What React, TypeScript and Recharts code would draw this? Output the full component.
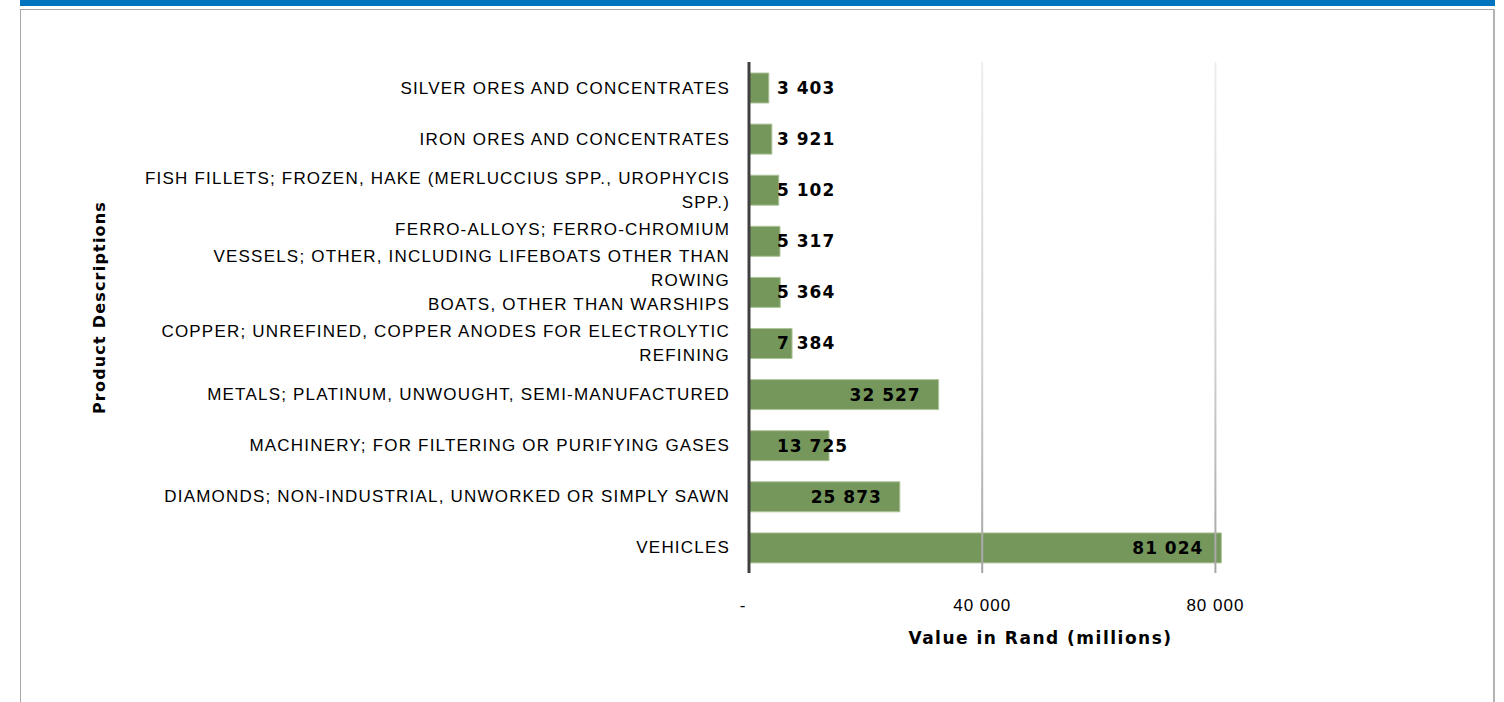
import React from 'react';
import { BarChart, Bar, XAxis, YAxis, ReferenceLine, LabelList, Label } from 'recharts';

// Top 10 products, in the order they appear (top to bottom)
const categories = [
  'SILVER ORES AND CONCENTRATES',
  'IRON ORES AND CONCENTRATES',
  'FISH FILLETS; FROZEN, HAKE (MERLUCCIUS SPP., UROPHYCIS SPP.)',
  'FERRO-ALLOYS; FERRO-CHROMIUM',
  'VESSELS; OTHER, INCLUDING LIFEBOATS OTHER THAN ROWING BOATS, OTHER THAN WARSHIPS',
  'COPPER; UNREFINED, COPPER ANODES FOR ELECTROLYTIC REFINING',
  'METALS; PLATINUM, UNWOUGHT, SEMI-MANUFACTURED',
  'MACHINERY; FOR FILTERING OR PURIFYING GASES',
  'DIAMONDS; NON-INDUSTRIAL, UNWORKED OR SIMPLY SAWN',
  'VEHICLES',
];

// value in Rand (millions)
const values = [3403, 3921, 5102, 5317, 5364, 7384, 32527, 13725, 25873, 81024];

// wrapped tick text, as shown on the axis
const categoryLines: string[][] = [
  ['SILVER ORES AND CONCENTRATES'],
  ['IRON ORES AND CONCENTRATES'],
  ['FISH FILLETS; FROZEN, HAKE (MERLUCCIUS SPP., UROPHYCIS', 'SPP.)'],
  ['FERRO-ALLOYS; FERRO-CHROMIUM', ''],
  ['VESSELS; OTHER, INCLUDING LIFEBOATS OTHER THAN', 'ROWING', 'BOATS, OTHER THAN WARSHIPS', ''],
  ['COPPER; UNREFINED, COPPER ANODES FOR ELECTROLYTIC', 'REFINING'],
  ['METALS; PLATINUM, UNWOUGHT, SEMI-MANUFACTURED'],
  ['MACHINERY; FOR FILTERING OR PURIFYING GASES'],
  ['DIAMONDS; NON-INDUSTRIAL, UNWORKED OR SIMPLY SAWN'],
  ['VEHICLES'],
];

const xTicks = [0, 40000, 80000];
const xDomain = [0, 100000];

const data = categories.map((name, i) => ({ name, value: values[i] }));

const LABEL_FONT = '"Liberation Sans", Arial, sans-serif';
const BOLD_FONT = '"DejaVu Sans", Verdana, sans-serif';
const LINE_H = 24;

function fmt(v: number): string {
  if (v === 0) return '-';
  return String(Math.round(v)).replace(/\B(?=(\d{3})+(?!\d))/g, ' ');
}

let measureCtx: CanvasRenderingContext2D | null = null;
function textWidth(s: string, font: string, spacing: number): number {
  if (!measureCtx) measureCtx = document.createElement('canvas').getContext('2d');
  if (!measureCtx) return s.length * 11;
  measureCtx.font = font;
  return measureCtx.measureText(s).width + s.length * spacing;
}

const CategoryTick = (props: any) => {
  const { x, y, payload } = props;
  const idx = categories.indexOf(payload.value);
  const lines = categoryLines[idx] ?? [String(payload.value)];
  const startY = y - ((lines.length - 1) * LINE_H) / 2;
  return (
    <g>
      {lines.map((l, i) => (
        <text
          key={i}
          x={x}
          y={startY + i * LINE_H}
          dy="0.35em"
          textAnchor="end"
          fill="#000"
          style={{ fontFamily: LABEL_FONT, fontSize: 17, letterSpacing: 1.2 }}
        >
          {l}
        </text>
      ))}
    </g>
  );
};

const ValueTick = (props: any) => {
  const { x, y, payload } = props;
  return (
    <text
      x={payload.value === 0 ? x - 6 : x}
      y={y + 32}
      dy="0.35em"
      textAnchor="middle"
      fill="#000"
      style={{ fontFamily: LABEL_FONT, fontSize: 17, letterSpacing: 1 }}
    >
      {fmt(payload.value)}
    </text>
  );
};

// Excel-like "inside end": pushed out to the base when the bar is too short
const ValueLabel = (props: any) => {
  const { x, y, width, height, value } = props;
  const s = fmt(Number(value));
  const w = textWidth(s, `bold 17px ${BOLD_FONT}`, 1);
  const fits = width - 18 - w >= 28;
  return (
    <text
      x={fits ? x + width - 18 : x + 28}
      y={y + height / 2}
      dy="0.35em"
      textAnchor={fits ? 'end' : 'start'}
      fill="#000"
      style={{ fontFamily: BOLD_FONT, fontSize: 17, fontWeight: 'bold', letterSpacing: 1 }}
    >
      {s}
    </text>
  );
};

export default function App() {
  return (
    <div
      style={{
        position: 'absolute',
        left: 0,
        top: 0,
        width: 1504,
        height: 702,
        overflow: 'hidden',
        background: '#fff',
      }}
    >
      <div style={{ position: 'absolute', left: 20, top: 0, width: 1475, height: 6, background: '#0073BE' }} />
      <div
        style={{
          position: 'absolute',
          left: 20,
          top: 9,
          width: 1472,
          height: 720,
          borderTop: '1px solid #a6a6a6',
          borderLeft: '1px solid #a6a6a6',
          borderRight: '2px solid #b4b4b4',
        }}
      />
      <div style={{ position: 'absolute', left: 0, top: 0 }}>
        <BarChart
          width={1504}
          height={702}
          data={data}
          layout="vertical"
          margin={{ top: 62, right: 172, bottom: 59, left: 0 }}
          barSize={30}
        >
          <defs>
            <linearGradient id="gridGrad" x1="0" y1="62" x2="0" y2="573" gradientUnits="userSpaceOnUse">
              <stop offset="0%" stopColor="#eeeeee" />
              <stop offset="60%" stopColor="#cfcfcf" />
              <stop offset="100%" stopColor="#a4a4a4" />
            </linearGradient>
          </defs>
          {xTicks.slice(1).map((t) => (
            <ReferenceLine key={t} x={t} stroke="url(#gridGrad)" strokeWidth={2} />
          ))}
          <XAxis
            type="number"
            domain={xDomain}
            ticks={xTicks}
            interval={0}
            axisLine={false}
            tickLine={false}
            tickSize={0}
            tickMargin={0}
            height={70}
            tick={<ValueTick />}
          >
            <Label
              content={(p: any) => {
                const vb = p.viewBox;
                return (
                  <text
                    x={vb.x + vb.width / 2}
                    y={vb.y + 65}
                    dy="0.35em"
                    textAnchor="middle"
                    fill="#000"
                    style={{ fontFamily: BOLD_FONT, fontSize: 17, fontWeight: 'bold', letterSpacing: 1.5 }}
                  >
                    Value in Rand (millions)
                  </text>
                );
              }}
            />
          </XAxis>
          <YAxis
            type="category"
            dataKey="name"
            width={749}
            interval={0}
            axisLine={{ stroke: '#404040', strokeWidth: 3 }}
            tickLine={false}
            tickSize={0}
            tickMargin={19}
            tick={<CategoryTick />}
          >
            <Label
              content={(p: any) => {
                const vb = p.viewBox;
                const cx = vb.x + 99;
                const cy = vb.y + vb.height / 2 - 10;
                return (
                  <text
                    x={cx}
                    y={cy}
                    dy="0.35em"
                    textAnchor="middle"
                    transform={`rotate(-90 ${cx} ${cy})`}
                    fill="#000"
                    style={{ fontFamily: BOLD_FONT, fontSize: 16, fontWeight: 'bold', letterSpacing: 1.2 }}
                  >
                    Product Descriptions
                  </text>
                );
              }}
            />
          </YAxis>
          <Bar
            dataKey="value"
            fill="#6E9153"
            fillOpacity={0.95}
            stroke="#AFC59A"
            strokeWidth={1}
            isAnimationActive={false}
          >
            <LabelList dataKey="value" content={<ValueLabel />} />
          </Bar>
        </BarChart>
      </div>
    </div>
  );
}
